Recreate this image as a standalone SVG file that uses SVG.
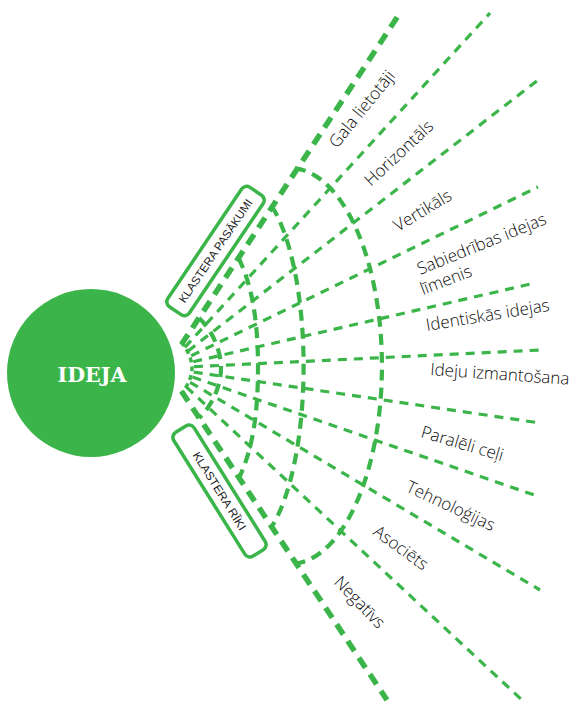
<svg xmlns="http://www.w3.org/2000/svg" width="587" height="706" viewBox="0 0 587 706">
<style>
.thin{fill:none;stroke:#3bb54a;stroke-width:3.2;stroke-dasharray:9 7}
.thick{fill:none;stroke:#3bb54a;stroke-width:5.5;stroke-dasharray:12 8}
.arc{fill:none;stroke:#3bb54a;stroke-width:4.2;stroke-dasharray:11 7}
.lbl{font-family:"Open Sans","Liberation Sans",sans-serif;font-weight:300;font-size:17px;fill:#0d0d0d}
.box{fill:#fff;stroke:#3bb54a;stroke-width:3.5}
.btxt{font-family:"Liberation Sans",Arial,sans-serif;font-size:11.5px;fill:#222;text-anchor:middle}
</style>
<rect width="587" height="706" fill="#fff"/>
<g id="connectors">
<line class="thin" x1="184.9" y1="347.3" x2="490" y2="13"/>
<line class="thin" x1="188.1" y1="350.9" x2="538" y2="80"/>
<line class="thin" x1="191.2" y1="355.8" x2="538" y2="187"/>
<line class="thin" x1="193.3" y1="361.7" x2="535" y2="283"/>
<line class="thin" x1="194" y1="366.7" x2="540" y2="350"/>
<line class="thin" x1="193.7" y1="372.1" x2="540" y2="423"/>
<line class="thin" x1="192.5" y1="377.1" x2="540" y2="497"/>
<line class="thin" x1="190.1" y1="382.3" x2="540" y2="590"/>
<line class="thin" x1="186.5" y1="387.1" x2="522" y2="700"/>
<line class="thick" x1="181.4" y1="344.6" x2="400" y2="13"/>
<line class="thick" x1="181.5" y1="391.3" x2="387" y2="700"/>
<path class="arc" d="M295,168.3 A92,198 0 0 1 295,563.7"/>
<path class="arc" d="M272,206.5 A58.5,180 0 0 1 271.8,526.5"/>
<path class="arc" d="M238.5,258 C252,285 258,320 258,368 C258,416 252,451 239,478"/>
<path class="arc" d="M199,318 C212,330 221,350 221,368 C221,386 212,406 199,418"/>
<path class="arc" style="stroke-dasharray:5 4;stroke-width:3.5" d="M181,342 C188,350 192,360 192,368 C192,376 188,386 181,394"/>
</g>
<g id="ideja">
<circle cx="91" cy="373" r="84" fill="#3bb54a"/>
<text x="92" y="382" text-anchor="middle" font-family="DejaVu Serif,Liberation Serif,serif" font-weight="bold" font-size="21" fill="#fff" textLength="69" lengthAdjust="spacingAndGlyphs">IDEJA</text>
</g>
<g id="klastera-pasakumi" transform="translate(215.5,251) rotate(-56)">
<rect class="box" x="-72" y="-13" width="144" height="26" rx="6"/>
<text class="btxt" x="0" y="4" textLength="122" lengthAdjust="spacingAndGlyphs">KLASTERA PASĀKUMI</text>
</g>
<g id="klastera-riki" transform="translate(219.5,491) rotate(58)">
<rect class="box" x="-73" y="-12" width="146" height="24" rx="6"/>
<text class="btxt" x="0" y="4" textLength="90" lengthAdjust="spacingAndGlyphs">KLASTERA RĪKI</text>
</g>
<g id="labels">
<g id="gala-lietotaji"><text class="lbl" transform="translate(337,149) rotate(-51)">Gala lietotāji</text></g>
<g id="horizontals"><text class="lbl" transform="translate(371,187) rotate(-43)">Horizontāls</text></g>
<g id="vertikals"><text class="lbl" transform="translate(398,232) rotate(-31)">Vertikāls</text></g>
<g id="sabiedribas"><text class="lbl" transform="translate(420,275) rotate(-22)">Sabiedrības idejas</text>
<text class="lbl" transform="translate(423,295) rotate(-21)">līmenis</text></g>
<g id="identiskas"><text class="lbl" transform="translate(427,331) rotate(-9.4)">Identiskās idejas</text></g>
<g id="ideju-izmantosana"><text class="lbl" transform="translate(430,375) rotate(4)">Ideju izmantošana</text></g>
<g id="paraleli-celi"><text class="lbl" transform="translate(420,437) rotate(16.5)">Paralēli ceļi</text></g>
<g id="tehnologijas"><text class="lbl" transform="translate(405,491) rotate(25)">Tehnoloģijas</text></g>
<g id="asociets"><text class="lbl" transform="translate(372,534) rotate(36)">Asociēts</text></g>
<g id="negativs"><text class="lbl" transform="translate(333,583) rotate(46)">Negatīvs</text></g>
</g>
</svg>
